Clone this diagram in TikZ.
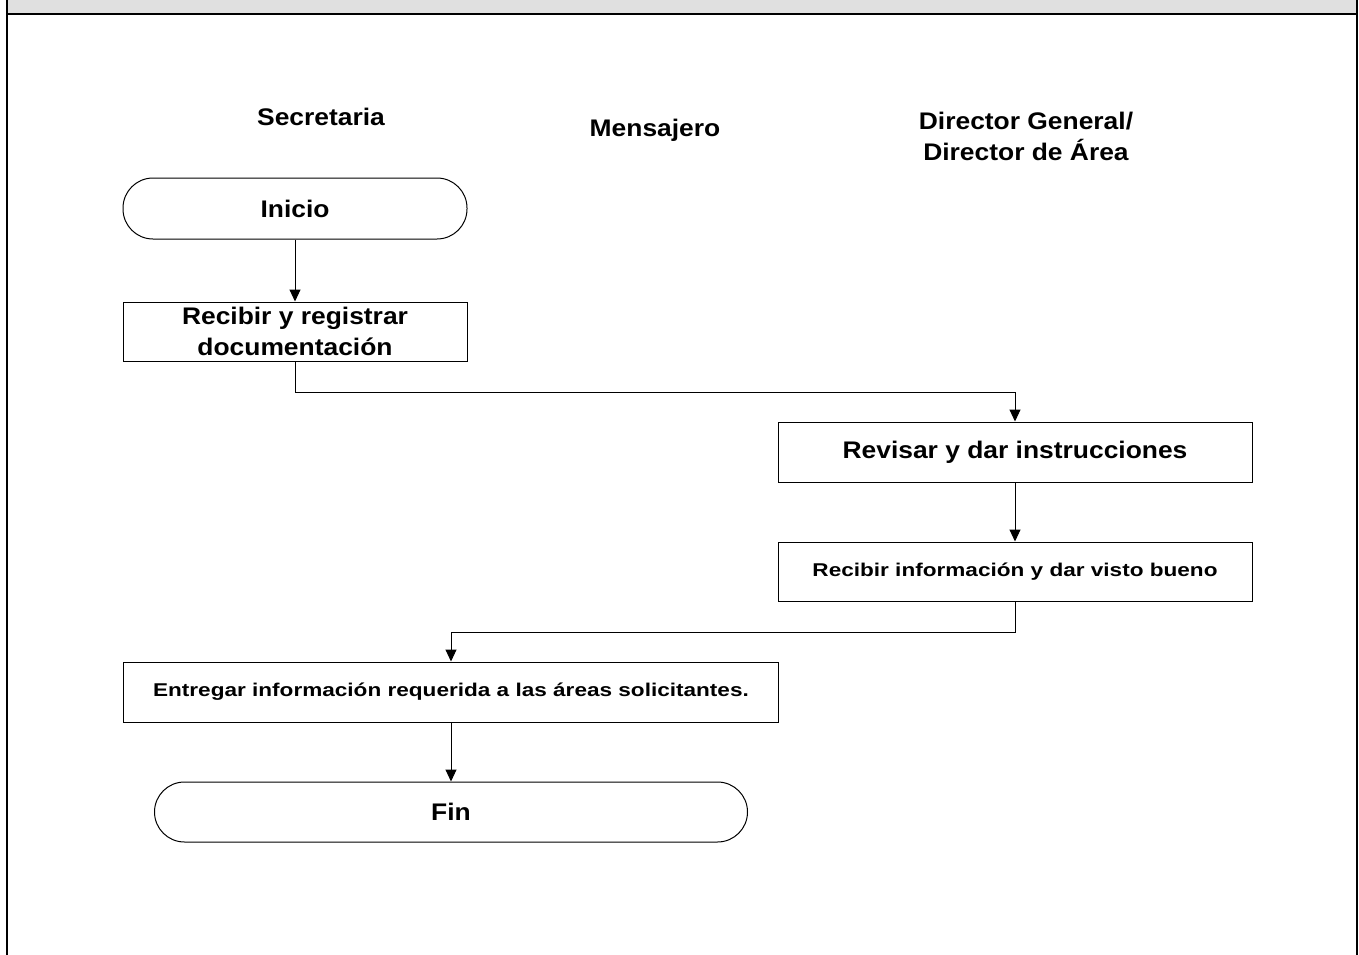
\documentclass[tikz,border=0pt]{standalone}
\usepackage{fontspec}
\setmainfont{Liberation Sans}
\newfontfamily\headfont[FakeStretch=1.1]{Liberation Sans}
\newfontfamily\smallfont[FakeStretch=1.22]{Liberation Sans}
\usetikzlibrary{arrows.meta}
\definecolor{bandgray}{HTML}{E0E0E0}
\begin{document}
\begin{tikzpicture}[x=1pt,y=-1pt,
  framerule/.style={line width=2.2pt,black},
  procbox/.style={draw=black,line width=1pt,rectangle,inner sep=0pt,align=center},
  termbox/.style={draw=black,line width=1pt,rectangle,rounded corners=30pt,inner sep=0pt,align=center},
  bigtext/.style={font=\headfont\bfseries\fontsize{24}{31}\selectfont},
  smalltext/.style={font=\smallfont\bfseries\fontsize{18.5}{22}\selectfont},
  lane/.style={bigtext,align=center,inner sep=0pt},
  flow/.style={line width=1pt,-{Triangle[length=12pt,width=11pt]}}]
\useasboundingbox (0,0) rectangle (1359,955);

% page frame with grey title band
\fill[bandgray] (7,0) rectangle (1357,13.8);
\draw[framerule] (7,13.8) -- (1357,13.8);
\draw[framerule] (7,0) -- (7,955);
\draw[framerule] (1357,0) -- (1357,955);

% lane titles
\node[lane] (lsec) at (321,117) {Secretaria};
\node[lane] (lmen) at (655,130) {Mensajero};
\node[lane] (ldir) at (1026,136) {Director General/\\Director de Área};

% steps
\node[termbox,bigtext,minimum width=344pt,minimum height=61pt] (ini) at (295,208.5) {Inicio};
\node[procbox,bigtext,minimum width=344pt,minimum height=59pt] (reg) at (295,331.5) {Recibir y registrar\\documentación};
\node[procbox,bigtext,minimum width=474pt,minimum height=60pt] (rev) at (1015,452) {Revisar y dar instrucciones};
\node[procbox,smalltext,minimum width=474pt,minimum height=59pt] (vob) at (1015,571.5) {Recibir información y dar visto bueno};
\node[procbox,smalltext,minimum width=655pt,minimum height=60pt] (ent) at (451,692) {Entregar información requerida a las áreas solicitantes.};
\node[termbox,bigtext,minimum width=593pt,minimum height=60pt] (fin) at (451,812) {Fin};

% connectors
\draw[flow] (ini.south) -- (reg.north);
\draw[flow] (reg.south) -- ++(0,31) -| (rev.north);
\draw[flow] (rev.south) -- (vob.north);
\draw[flow] (vob.south) -- ++(0,31) -| (ent.north);
\draw[flow] (ent.south) -- (fin.north);
\end{tikzpicture}
\end{document}
